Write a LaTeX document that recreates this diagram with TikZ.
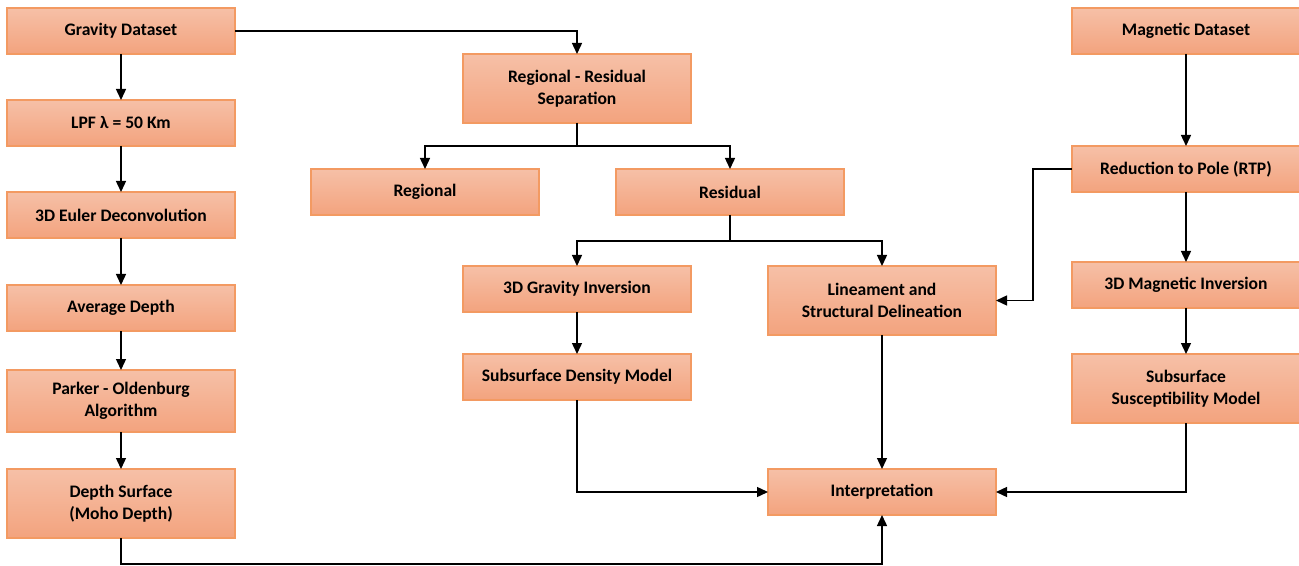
\documentclass[tikz,border=0pt]{standalone}
\usepackage{fontspec}
\setmainfont{Carlito}
\usetikzlibrary{arrows.meta, positioning}

\definecolor{boxtop}{HTML}{F6C0A7}
\definecolor{boxbot}{HTML}{F3A37E}
\definecolor{boxline}{HTML}{F39A62}

\begin{document}
\begin{tikzpicture}[
    box/.style={rectangle, draw=boxline, line width=0.6pt,
        top color=boxtop, bottom color=boxbot,
        minimum width=4.56cm, minimum height=0.92cm, inner sep=2pt, outer sep=0pt,
        align=center, font=\bfseries\fontsize{10}{12.5}\selectfont},
    tallbox/.style={box, minimum height=1.38cm},
    arr/.style={-{Triangle[length=2.2mm, width=2mm]}, line width=0.8pt},
    node distance={0.92cm}
]

\useasboundingbox (0,0) rectangle (25.98,-11.32);

% gravity column
\node[box] (grav) at (2.42,-0.62) {Gravity Dataset};
\node[box] (lpf) [below=of grav] {LPF λ = 50 Km};
\node[box] (euler) [below=of lpf] {3D Euler Deconvolution};
\node[box] (avg) [below=0.94cm of euler] {Average Depth};
\node[box, minimum height=1.24cm] (parker) [below=0.78cm of avg] {Parker - Oldenburg\\Algorithm};
\node[tallbox] (depth) [below=0.74cm of parker] {Depth Surface\\(Moho Depth)};

% separation
\node[tallbox] (regres) at (11.54,-1.77) {Regional - Residual\\Separation};
\node[box] (regional) at (8.50,-3.84) {Regional};
\node[box] (resid) at (14.60,-3.84) {Residual};
\node[box] (gravinv) at (11.54,-5.78) {3D Gravity Inversion};
\node[box] (dens) [below=0.84cm of gravinv] {Subsurface Density Model};
\node[tallbox] (linea) at (17.64,-6.01) {Lineament and\\Structural Delineation};
\node[box] (interp) at (17.64,-9.84) {Interpretation};

% magnetic column
\node[box] (mag) at (23.72,-0.62) {Magnetic Dataset};
\node[box] (rtp) [below=1.84cm of mag] {Reduction to Pole (RTP)};
\node[box] (maginv) [below=1.40cm of rtp] {3D Magnetic Inversion};
\node[tallbox] (susc) [below=of maginv] {Subsurface\\Susceptibility Model};

\draw[arr] (grav) -- (lpf);
\draw[arr] (lpf) -- (euler);
\draw[arr] (euler) -- (avg);
\draw[arr] (avg) -- (parker);
\draw[arr] (parker) -- (depth);
\draw[arr] (grav.east) -| (regres.north);
\draw[arr] (regres.south) -- ++(0,-0.46) -| (regional.north);
\draw[arr] (regres.south) -- ++(0,-0.46) -| (resid.north);
\draw[arr] (resid.south) -- ++(0,-0.52) -| (gravinv.north);
\draw[arr] (resid.south) -- ++(0,-0.52) -| (linea.north);
\draw[arr] (gravinv) -- (dens);
\draw[arr] (mag) -- (rtp);
\draw[arr] (rtp) -- (maginv);
\draw[arr] (maginv) -- (susc);
\draw[arr] (rtp.west) -- ++(-0.78,0) |- (linea.east);
\draw[arr] (dens.south) |- (interp.west);
\draw[arr] (linea) -- (interp);
\draw[arr] (susc.south) |- (interp.east);
\draw[arr] (depth.south) -- ++(0,-0.52) -| (interp.south);

\end{tikzpicture}
\end{document}
